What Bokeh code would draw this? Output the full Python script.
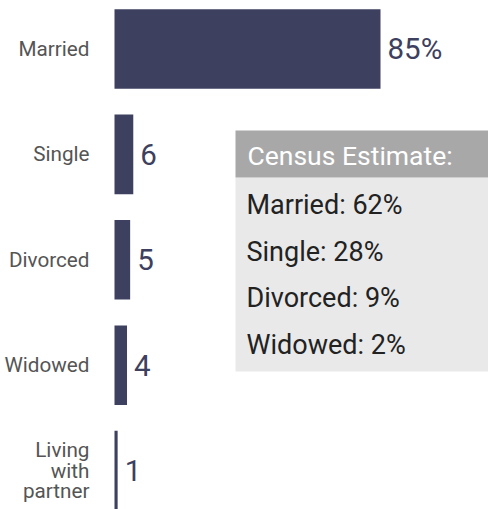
from bokeh.plotting import figure
from bokeh.models import Range1d
from bokeh.core.properties import value
from bokeh.embed import file_html
from bokeh.resources import INLINE

categories = ["Married", "Single", "Divorced", "Widowed", "Living\nwith\npartner"]
percent = [85, 6, 5, 4, 1]
census_title = "Census Estimate:"
census_labels = ["Married", "Single", "Divorced", "Widowed"]
census_values = [62, 28, 9, 2]

W, H = 488, 509
ZERO_PX = 114.0          # px of value 0
SX = 266.0 / 85.0        # px per percent
Y0_PX = 48.5             # px of first category centre
SY = 105.4               # px per category step

def xd(px):
    return (px - ZERO_PX) / SX

def yd(py):
    return (py - Y0_PX) / SY

p = figure(width=W, height=H, output_backend="svg", toolbar_location=None,
           x_range=Range1d(xd(0), xd(W)), y_range=Range1d(yd(H), yd(0)),
           min_border=0, outline_line_color=None)
p.axis.visible = False
p.grid.visible = False
p.background_fill_color = "white"
p.border_fill_color = "white"

idx = list(range(len(categories)))
bar_color = "#3d405e"
p.hbar(y=idx, right=percent, left=0, height=0.755, fill_color=bar_color, line_color=None)

vlabels = [f"{v}%" if i == 0 else str(v) for i, v in enumerate(percent)]
p.text(x=percent, y=idx, text=vlabels, x_offset=7, text_baseline="middle",
       text_align="left", text_font=value("Roboto"), text_font_size="29.5px",
       text_color="#3d405e")

p.text(x=[0] * len(categories), y=idx, text=categories, x_offset=-25,
       text_baseline="middle", text_align="right", text_font=value("Roboto"),
       text_font_size="20.7px", text_color="#555555", text_line_height=0.85)

# census box
p.quad(left=[xd(235)], right=[xd(W + 10)], top=[yd(177)], bottom=[yd(371)],
       fill_color="#e9e9e9", line_color=None)
p.quad(left=[xd(235)], right=[xd(W + 10)], top=[yd(130)], bottom=[yd(177)],
       fill_color="#a9a8a9", line_color=None)
p.text(x=[xd(247)], y=[yd(155)], text=[census_title], text_baseline="middle",
       text_font=value("Roboto"), text_font_size="26.5px", text_color="white")
rows_py = [204, 251, 297, 344]
p.text(x=[xd(246)] * 4, y=[yd(r) for r in rows_py],
       text=[f"{c}: {v}%" for c, v in zip(census_labels, census_values)],
       text_baseline="middle", text_font=value("Roboto"), text_font_size="27px",
       text_color="#222222")

open("out.html", "w").write(file_html(p, INLINE))
